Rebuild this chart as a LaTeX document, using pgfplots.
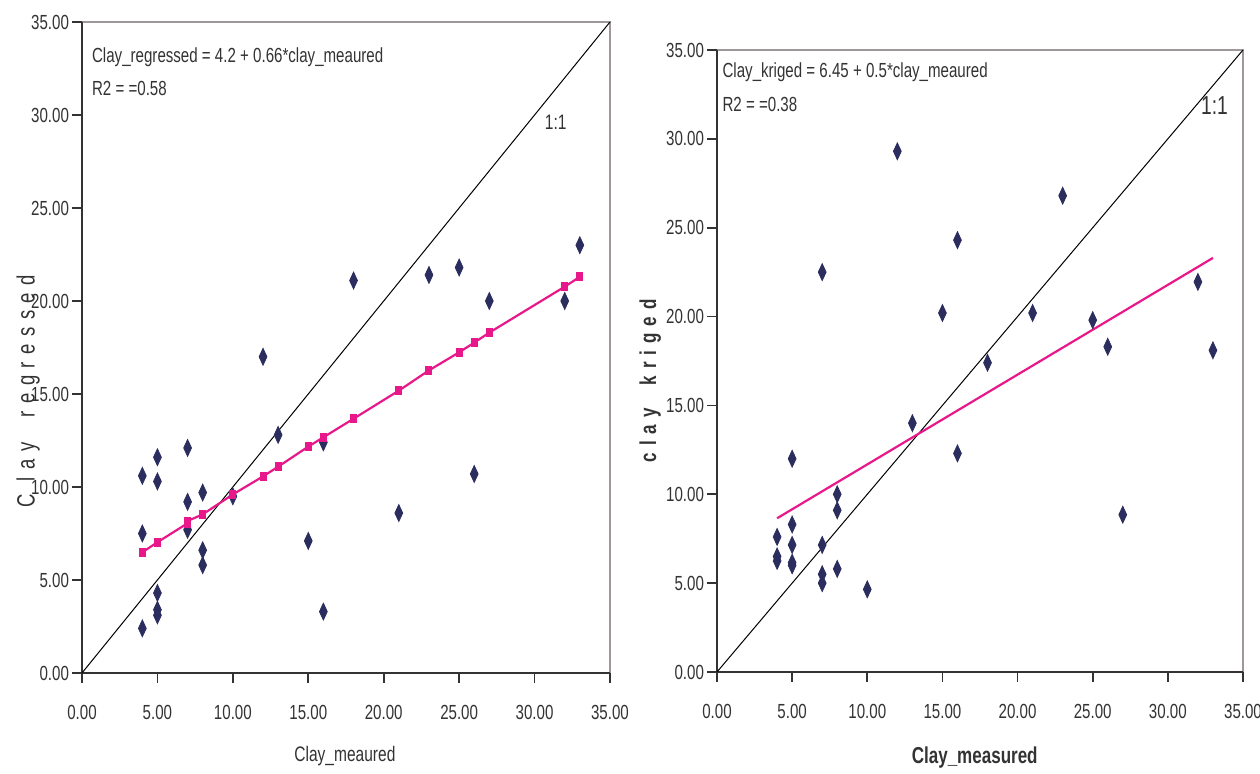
\documentclass[border=0pt]{standalone}
\usepackage{fontspec}
\setmainfont{Liberation Sans}[FakeStretch=0.74]
\usepackage{pgfplots}
\usepackage{pgfplotstable}
\pgfplotsset{compat=1.18}
\definecolor{navy}{HTML}{2B2D5E}
\definecolor{mag}{HTML}{E8188A}
\definecolor{txt}{HTML}{333333}
\definecolor{frame}{HTML}{A09898}

\pgfplotstableread{
x y
4 10.6
4 7.5
4 2.4
5 11.6
5 10.3
5 4.3
5 3.4
5 3.1
7 12.1
7 9.2
7 7.7
8 9.7
8 6.6
8 5.8
10 9.5
12 17.0
13 12.8
15 7.1
16 12.4
16 3.3
18 21.1
21 8.6
23 21.4
25 21.8
26 10.7
27 20.0
32 20.0
33 23.0
}\leftpts

\pgfplotstableread{
x y
4 6.49
5 7.03
7 8.05
7 8.17
8 8.53
10 9.6
12 10.57
13 11.09
15 12.17
16 12.67
18 13.67
21 15.18
23 16.27
25 17.24
26 17.76
27 18.3
32 20.77
33 21.3
}\leftfit

\pgfplotstableread{
x y
4 7.6
4 6.5
4 6.25
5 12.0
5 8.3
5 7.15
5 6.15
5 6.0
7 22.5
7 7.15
7 5.5
7 5.0
8 10.0
8 9.1
8 5.8
10 4.65
12 29.3
13 14.0
15 20.2
16 24.3
16 12.3
18 17.4
21 20.2
23 26.8
25 19.8
26 18.3
27 8.85
32 21.95
33 18.1
}\rightpts

\pgfplotstableread{
x y
4 8.65
33 23.3
}\rightfit

\pgfplotsset{myaxis/.style={
  scale only axis,
  xmin=0, xmax=35, ymin=0, ymax=35,
  xtick={0,5,...,35}, ytick={0,5,...,35},
  axis lines=left,
  axis line style={-, draw=txt, line width=0.9pt},
  axis background/.style={draw=frame, line width=0.9pt},
  tick align=outside, major tick length=5pt,
  tick style={draw=txt, line width=0.8pt},
  tick label style={font=\fontsize{10.2}{12}\selectfont, text=txt},
  xticklabel style={yshift=-7.5pt},
  yticklabel style={xshift=2pt},
  /pgf/number format/fixed,
  /pgf/number format/fixed zerofill,
  /pgf/number format/precision=2,
  /pgf/number format/assume math mode=true,
  clip=false,
}}

\begin{document}
\begin{tikzpicture}
\path[use as bounding box] (0,0) rectangle (630pt,387pt);

% Left panel
\begin{axis}[myaxis,
  at={(41pt,50.5pt)}, anchor=south west,
  width=264pt, height=325.5pt,
  xlabel={Clay\_meaured},
  ylabel={\addfontfeatures{LetterSpace=30}C lay\ \ regressed},
  xlabel style={at={(axis description cs:0.498,-0.1275)}, anchor=center,
    font=\fontsize{10.5}{12}\selectfont, text=txt},
  ylabel style={at={(axis description cs:-0.102,0.433)}, anchor=center, rotate=0,
    font=\fontsize{12.5}{14}\selectfont, text=txt},
]
\addplot[black, line width=0.5pt] coordinates {(0,0) (35,35)};
\addplot[only marks, mark=diamond*, mark size=4.2pt, color=navy,
  mark options={xscale=0.62, fill=navy}] table[x=x,y=y] {\leftpts};
\addplot[mag, line width=1.1pt, mark=square*, mark size=1.2pt,
  mark options={yscale=1.4, fill=mag}] table[x=x,y=y] {\leftfit};
\node[anchor=west, font=\fontsize{10.2}{12}\selectfont, text=txt]
  at (axis cs:0.2,33.1) {Clay\_regressed = 4.2 + 0.66*clay\_meaured};
\node[anchor=west, font=\fontsize{10.2}{12}\selectfont, text=txt]
  at (axis cs:0.2,31.45) {R2 = =0.58};
\node[font=\fontsize{10.5}{12}\selectfont, text=txt] at (axis cs:31.4,29.6) {1:1};
\end{axis}

% Right panel
\begin{axis}[myaxis,
  at={(358.5pt,51pt)}, anchor=south west,
  width=263pt, height=311pt,
  xlabel={Clay\_measured},
  ylabel={\addfontfeatures{LetterSpace=30}clay\ \ kriged},
  xlabel style={at={(axis description cs:0.49,-0.137)}, anchor=center,
    font=\bfseries\fontsize{11.5}{13}\selectfont, text=txt},
  ylabel style={at={(axis description cs:-0.127,0.468)}, anchor=center,
    font=\bfseries\fontsize{11.5}{13}\selectfont, text=txt},
]
\addplot[black, line width=0.5pt] coordinates {(0,0) (35,35)};
\addplot[only marks, mark=diamond*, mark size=4.2pt, color=navy,
  mark options={xscale=0.62, fill=navy}] table[x=x,y=y] {\rightpts};
\addplot[mag, line width=1.1pt] table[x=x,y=y] {\rightfit};
\node[anchor=west, font=\fontsize{10.2}{12}\selectfont, text=txt]
  at (axis cs:-0.1,33.76) {Clay\_kriged = 6.45 + 0.5*clay\_meaured};
\node[anchor=west, font=\fontsize{10.2}{12}\selectfont, text=txt]
  at (axis cs:-0.1,31.96) {R2 = =0.38};
\node[font=\fontsize{13}{15}\selectfont, text=txt] at (axis cs:33.1,31.9) {1:1};
\end{axis}
\end{tikzpicture}
\end{document}
